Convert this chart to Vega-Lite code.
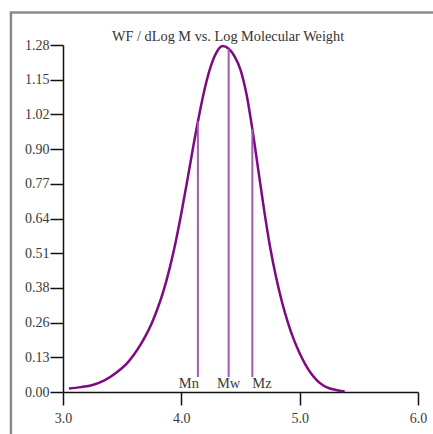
{
  "$schema": "https://vega.github.io/schema/vega-lite/v6.json",
  "width": 355,
  "height": 347,
  "autosize": "none",
  "padding": {"left": 63, "top": 45, "right": 15, "bottom": 42},
  "background": "white",
  "config": {
    "view": {"stroke": null},
    "axis": {
      "labelFont": "Liberation Serif",
      "labelFontSize": 14,
      "labelColor": "#3a3a3a",
      "domainColor": "#111",
      "domainWidth": 1.5,
      "tickColor": "#111",
      "tickWidth": 1.5,
      "grid": false,
      "title": null,
      "labelOverlap": false
    }
  },
  "datasets": {
    "curve": [
      {"logM": 3.05, "wf": 0.013},
      {"logM": 3.15, "wf": 0.018},
      {"logM": 3.25, "wf": 0.026},
      {"logM": 3.35, "wf": 0.043},
      {"logM": 3.45, "wf": 0.071},
      {"logM": 3.55, "wf": 0.110},
      {"logM": 3.60, "wf": 0.138},
      {"logM": 3.65, "wf": 0.171},
      {"logM": 3.70, "wf": 0.209},
      {"logM": 3.75, "wf": 0.254},
      {"logM": 3.80, "wf": 0.309},
      {"logM": 3.85, "wf": 0.374},
      {"logM": 3.90, "wf": 0.454},
      {"logM": 3.95, "wf": 0.549},
      {"logM": 4.00, "wf": 0.659},
      {"logM": 4.05, "wf": 0.779},
      {"logM": 4.10, "wf": 0.904},
      {"logM": 4.15, "wf": 1.02},
      {"logM": 4.20, "wf": 1.123},
      {"logM": 4.25, "wf": 1.203},
      {"logM": 4.30, "wf": 1.255},
      {"logM": 4.35, "wf": 1.276},
      {"logM": 4.40, "wf": 1.266},
      {"logM": 4.45, "wf": 1.238},
      {"logM": 4.50, "wf": 1.188},
      {"logM": 4.55, "wf": 1.10},
      {"logM": 4.60, "wf": 0.97},
      {"logM": 4.65, "wf": 0.82},
      {"logM": 4.70, "wf": 0.67},
      {"logM": 4.75, "wf": 0.535},
      {"logM": 4.80, "wf": 0.425},
      {"logM": 4.85, "wf": 0.333},
      {"logM": 4.90, "wf": 0.257},
      {"logM": 4.95, "wf": 0.194},
      {"logM": 5.00, "wf": 0.143},
      {"logM": 5.05, "wf": 0.100},
      {"logM": 5.10, "wf": 0.066},
      {"logM": 5.15, "wf": 0.041},
      {"logM": 5.20, "wf": 0.024},
      {"logM": 5.25, "wf": 0.014},
      {"logM": 5.30, "wf": 0.008},
      {"logM": 5.35, "wf": 0.004},
      {"logM": 5.38, "wf": 0.003}
    ],
    "moments": [
      {"name": "Mn", "logM": 4.14, "top": 0.998},
      {"name": "Mw", "logM": 4.40, "top": 1.266},
      {"name": "Mz", "logM": 4.60, "top": 0.97}
    ],
    "frame": [
      {"x0": 2.56, "x1": 6.4, "y0": -0.3, "y1": 1.40}
    ],
    "titles": [
      {"text": "WF / dLog M vs. Log Molecular Weight", "logM": 4.395, "wf": 1.308}
    ]
  },
  "layer": [
    {
      "data": {"name": "frame"},
      "mark": {"type": "rect", "fillOpacity": 0, "stroke": "#8a8a8a", "strokeWidth": 2.5, "clip": false},
      "encoding": {
        "x": {"field": "x0", "type": "quantitative", "scale": {"domain": [3, 6], "nice": false, "zero": false}},
        "x2": {"field": "x1"},
        "y": {"field": "y0", "type": "quantitative", "scale": {"domain": [0, 1.28], "nice": false, "zero": false}},
        "y2": {"field": "y1"}
      }
    },
    {
      "data": {"name": "curve"},
      "mark": {"type": "line", "color": "#7d0a82", "strokeWidth": 2.5, "interpolate": "monotone"},
      "encoding": {
        "x": {
          "field": "logM", "type": "quantitative",
          "scale": {"domain": [3, 6], "nice": false, "zero": false},
          "axis": {"values": [3, 4, 5, 6], "tickCount": 4, "format": ".1f", "tickSize": 13, "labelPadding": 6, "labelFlush": false}
        },
        "y": {
          "field": "wf", "type": "quantitative",
          "scale": {"domain": [0, 1.28], "nice": false, "zero": false},
          "axis": {"values": [0, 0.128, 0.256, 0.384, 0.512, 0.64, 0.768, 0.896, 1.024, 1.152, 1.28], "tickCount": 11, "format": ".2f", "tickSize": 13, "labelPadding": 1, "labelFlush": false}
        }
      }
    },
    {
      "data": {"name": "moments"},
      "mark": {"type": "rule", "color": "#a25ab0", "strokeWidth": 2},
      "encoding": {
        "x": {"field": "logM", "type": "quantitative"},
        "y": {"field": "top", "type": "quantitative"},
        "y2": {"datum": 0.055}
      }
    },
    {
      "data": {"name": "moments"},
      "transform": [{"filter": "datum.name === 'Mn'"}],
      "mark": {"type": "text", "align": "right", "baseline": "middle", "font": "Liberation Serif", "fontSize": 14.5, "color": "#3a3a3a", "dx": 1},
      "encoding": {
        "x": {"field": "logM", "type": "quantitative"},
        "y": {"datum": 0.03, "type": "quantitative"},
        "text": {"field": "name"}
      }
    },
    {
      "data": {"name": "moments"},
      "transform": [{"filter": "datum.name === 'Mw'"}],
      "mark": {"type": "text", "align": "center", "baseline": "middle", "font": "Liberation Serif", "fontSize": 14.5, "color": "#3a3a3a"},
      "encoding": {
        "x": {"field": "logM", "type": "quantitative"},
        "y": {"datum": 0.03, "type": "quantitative"},
        "text": {"field": "name"}
      }
    },
    {
      "data": {"name": "moments"},
      "transform": [{"filter": "datum.name === 'Mz'"}],
      "mark": {"type": "text", "align": "left", "baseline": "middle", "font": "Liberation Serif", "fontSize": 14.5, "color": "#3a3a3a"},
      "encoding": {
        "x": {"field": "logM", "type": "quantitative"},
        "y": {"datum": 0.03, "type": "quantitative"},
        "text": {"field": "name"}
      }
    },
    {
      "data": {"name": "titles"},
      "mark": {"type": "text", "align": "center", "baseline": "middle", "font": "Liberation Serif", "fontSize": 14.3, "color": "#333", "clip": false},
      "encoding": {
        "x": {"field": "logM", "type": "quantitative"},
        "y": {"field": "wf", "type": "quantitative"},
        "text": {"field": "text"}
      }
    }
  ]
}
